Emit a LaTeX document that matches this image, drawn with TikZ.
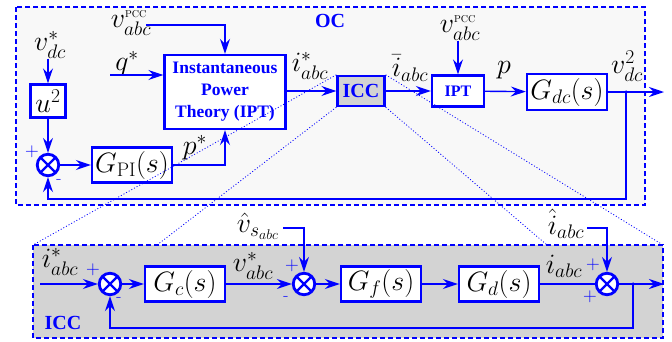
\RequirePackage{fix-cm}
\documentclass[tikz,border=0pt]{standalone}
\usepackage{fontspec}
\newfontfamily\tb{Liberation Serif}
\usetikzlibrary{arrows.meta}
\definecolor{ocfill}{RGB}{248,248,248}
\definecolor{iccfill}{RGB}{211,211,211}
\definecolor{bl}{RGB}{0,0,255}
\newcommand{\mfont}{\fontsize{28}{32}\selectfont}
\newcommand{\pcc}{^{\text{\fontsize{10}{10}\selectfont PCC}}}
\usepackage{amsmath}
\begin{document}
\begin{tikzpicture}[x=1pt,y=-1pt,
  every node/.style={inner sep=0pt},
  wire/.style={draw=bl, line width=1.4pt},
  conn/.style={wire, -{Stealth[length=15pt,width=10pt,inset=5pt]}},
  blk/.style={draw=bl, line width=2.4pt, fill=white, text=black, minimum height=35pt, minimum width=80pt, font=\mfont},
  sumnode/.style={circle, draw=bl, line width=2.8pt, fill=white, minimum size=21.5pt,
    path picture={\draw[bl,line width=2.4pt] (path picture bounding box.north west) -- (path picture bounding box.south east) (path picture bounding box.north east) -- (path picture bounding box.south west);}},
  lbl/.style={font=\mfont, text=black},
  sgn/.style={text=bl, font=\fontsize{19}{19}\selectfont},
  mns/.style={text=bl, font=\fontsize{17}{17}\selectfont},
  dots/.style={draw=bl, line width=0.8pt, dash pattern=on 1pt off 2pt},
  region/.style={draw=bl, line width=1.6pt, dash pattern=on 5pt off 3pt},
  ttl/.style={text=bl, font=\tb\bfseries\fontsize{20}{20}\selectfont},
  dot/.style={circle, fill=bl, minimum size=3.5pt}
]
\useasboundingbox (0,0) rectangle (672,341);
% regions
\draw[region, fill=ocfill] (16,7) rectangle (645,205);
\draw[region, fill=iccfill] (33,245) rectangle (663,338);
\node[ttl] (octitle) at (330,21) {OC};
\node[ttl] (icctitle) at (63,323) {ICC};

% ---------- OC ----------
\node[lbl] (vdcs) at (50,45) {$v^*_{dc}$};
\node[blk, minimum width=35pt, minimum height=33pt] (u2) at (48,101) {$u^2$};
\node[sumnode] (s1) at (48,165) {};
\node[sgn] (s1p) at (32,152) {$+$};
\node[mns] (s1m) at (59,181) {-};
\node[blk] (gpi) at (132,165) {$G_{\mathrm{PI}}(s)$};
\node[lbl] (pst) at (195,148) {$p^*$};
\node[blk, minimum width=121pt, minimum height=74pt, align=center,
      font=\tb\bfseries\fontsize{17.5}{22}\selectfont, text=bl] (ipt) at (225,92)
      {Instantaneous\\Power\\Theory (IPT)};
\node[lbl] (qst) at (127,64) {$q^*$};
\coordinate (qin) at (110,75);
\node[lbl] (vp1) at (131,23) {$v_{abc}\pcc$};
\coordinate (vp1o) at (146,25);
\node[lbl] (ist) at (310,66) {$i^*_{abc}$};
\node[blk, fill=iccfill, minimum width=47pt, minimum height=30pt,
      font=\tb\bfseries\fontsize{20}{20}\selectfont, text=bl] (iccs) at (361,91) {ICC};
\node[lbl] (ibar) at (410,68) {$\bar{i}_{abc}$};
\node[blk, minimum width=52pt, minimum height=31pt,
      font=\tb\bfseries\fontsize{16}{16}\selectfont, text=bl] (ipts) at (458,91) {IPT};
\node[lbl] (vp2) at (460,28) {$v_{abc}\pcc$};
\node[lbl] (pl) at (504,70) {$p$};
\node[blk, minimum height=36pt] (gdc) at (567,92) {$G_{dc}(s)$};
\node[lbl] (vdc2) at (627,66) {$v^2_{dc}$};
\node[dot] (d1) at (626,92) {};
\coordinate (out1) at (664,92);
\coordinate (fb1) at (626,199);

\draw[conn] (vdcs.south -| u2) -- (u2);
\draw[conn] (u2) -- (s1);
\draw[conn] (s1) -- (gpi);
\draw[conn] (gpi.east) -| (ipt.south);
\draw[conn] (qin) -- (qin -| ipt.west);
\draw[conn] (vp1o) -| (ipt.north);
\draw[conn] (ipt.east |- iccs) -- (iccs);
\draw[conn] (iccs) -- (ipts);
\draw[conn] (vp2.south -| ipts) -- (ipts);
\draw[conn] (ipts) -- (gdc);
\draw[conn] (gdc) -- (out1);
\draw[conn] (d1.center) -- (fb1) -| (s1.south);

% ---------- ICC ----------
\node[lbl] (ist2) at (60,262) {$i^*_{abc}$};
\coordinate (iin) at (40,284);
\node[sumnode] (s2) at (110,284) {};
\node[sgn] (s2p) at (93,270) {$+$};
\node[mns] (s2m) at (119,299) {-};
\node[blk] (gc) at (185,284) {$G_c(s)$};
\node[lbl] (vst) at (253,266) {$v^*_{abc}$};
\node[sumnode] (s3) at (304,284) {};
\node[sgn] (s3p) at (292,266) {$+$};
\node[mns] (s3m) at (286,298) {-};
\node[lbl] (vhat) at (258,226) {$\hat{v}_{s_{abc}}$};
\coordinate (vho) at (283,228);
\node[blk] (gf) at (381,284) {$G_f(s)$};
\node[blk] (gd) at (499,284) {$G_d(s)$};
\node[lbl] (iabc) at (564,266) {$i_{abc}$};
\node[sumnode] (s4) at (607,284) {};
\node[sgn] (s4p) at (593,265) {$+$};
\node[sgn] (s4q) at (590,297) {$+$};
\node[lbl] (ihat) at (566,224) {$\hat{i}_{abc}$};
\coordinate (iho) at (587,228);
\node[dot] (d2) at (633,284) {};
\coordinate (out2) at (664,284);
\coordinate (fb2) at (633,328);

\draw[conn] (iin) -- (s2);
\draw[conn] (s2) -- (gc);
\draw[conn] (gc) -- (s3);
\draw[conn] (vho) -| (s3.north);
\draw[conn] (s3) -- (gf);
\draw[conn] (gf) -- (gd);
\draw[wire] (gd) -- (s4);
\draw[conn] (iho) -| (s4.north);
\draw[conn] (s4) -- (out2);
\draw[conn] (d2.center) -- (fb2) -| (s2.south);

% ---------- zoom lines ----------
\coordinate (z1) at (33,245);
\coordinate (z2) at (157,245);
\coordinate (z3) at (547,245);
\coordinate (z4) at (663,245);
\draw[dots] (iccs.north west) -- (z1);
\draw[dots] (iccs.south west) -- (z2);
\draw[dots] (iccs.south east) -- (z3);
\draw[dots] (iccs.north east) -- (z4);
\end{tikzpicture}
\end{document}
